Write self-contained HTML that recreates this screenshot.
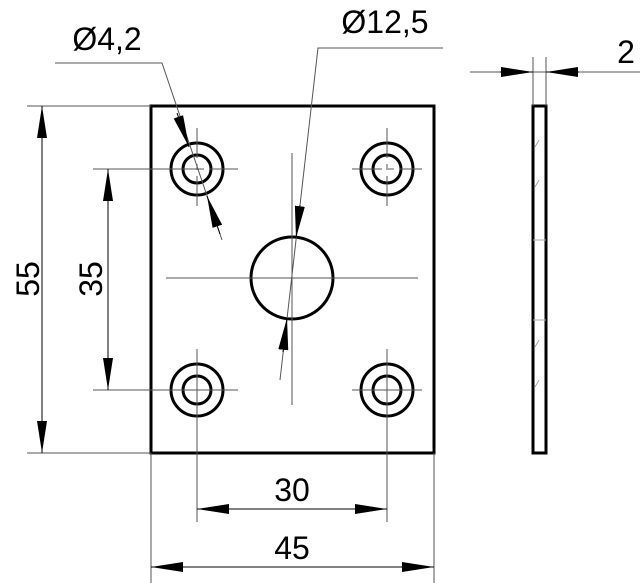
<!DOCTYPE html>
<html><head><style>html,body{margin:0;padding:0;background:#fff}svg{display:block}</style></head><body>
<svg width="640" height="583" viewBox="0 0 640 583" xmlns="http://www.w3.org/2000/svg" font-family="Liberation Sans, sans-serif">
<defs>
<marker id="a" markerWidth="32" markerHeight="10" refX="32" refY="5" orient="auto" markerUnits="userSpaceOnUse"><path d="M0,0L32,5L0,10Z" fill="#000"/></marker>
</defs>
<rect x="151" y="106" width="283" height="347" fill="none" stroke="#000" stroke-width="3"/>
<g fill="none" stroke="#000" stroke-width="3">
<circle cx="197" cy="169" r="26"/><circle cx="197" cy="169" r="14"/>
<circle cx="387" cy="169" r="26"/><circle cx="387" cy="169" r="14"/>
<circle cx="197" cy="390" r="26"/><circle cx="197" cy="390" r="14"/>
<circle cx="387" cy="390" r="26"/><circle cx="387" cy="390" r="14"/>
<circle cx="292" cy="278" r="41"/>
<rect x="533" y="106" width="13" height="347"/>
</g>
<g stroke="#555" stroke-width="1" fill="none">
<path d="M166 278H418M292 153V405"/>
<path d="M162 169H238M197 128V210M352 169H422M387 128V210" stroke-dasharray="30 6 6 6"/>
<path d="M162 390H238M352 390H422M387 349V431M197 349V420"/>
<path d="M27 106H151M93 169H197M27 453H151M93 390H197"/>
<path d="M197 420V522M387 420V522M151 453V583M434 453V583"/>
<path d="M533 57V106M546 57V106M470 72H640"/>
<path d="M55 63H162L222 240M443 48H318L280 380"/>
<path d="M539 140L535 147M539 180L535 187M533 240H546M533 320H546M539 340L535 347M539 380L535 387" stroke="#aaa"/>
</g>
<g stroke="#000" stroke-width="1">
<line x1="42" y1="279" x2="42" y2="106" marker-end="url(#a)"/><line x1="42" y1="279" x2="42" y2="453" marker-end="url(#a)"/>
<line x1="108" y1="279" x2="108" y2="169" marker-end="url(#a)"/><line x1="108" y1="279" x2="108" y2="390" marker-end="url(#a)"/>
<line x1="292" y1="509" x2="197" y2="509" marker-end="url(#a)"/><line x1="292" y1="509" x2="387" y2="509" marker-end="url(#a)"/>
<line x1="292" y1="567" x2="151" y2="567" marker-end="url(#a)"/><line x1="292" y1="567" x2="434" y2="567" marker-end="url(#a)"/>
<line x1="500" y1="72" x2="533" y2="72" marker-end="url(#a)"/><line x1="579" y1="72" x2="546" y2="72" marker-end="url(#a)"/>
<line x1="177" y1="113" x2="189" y2="147" marker-end="url(#a)"/><line x1="220" y1="234" x2="207" y2="196" marker-end="url(#a)"/>
<line x1="300" y1="205" x2="296" y2="238" marker-end="url(#a)"/><line x1="283" y1="352" x2="287" y2="318" marker-end="url(#a)"/>
</g>
<g style="font-size:32px" fill="#000" text-anchor="middle">
<text x="107" y="50">Ø4,2</text>
<text x="385" y="33">Ø12,5</text>
<text x="626" y="63">2</text>
<text x="292" y="501">30</text>
<text x="292" y="559">45</text>
<text transform="translate(39,279) rotate(-90)">55</text>
<text transform="translate(102,279) rotate(-90)">35</text>
</g>
</svg>
</body></html>
